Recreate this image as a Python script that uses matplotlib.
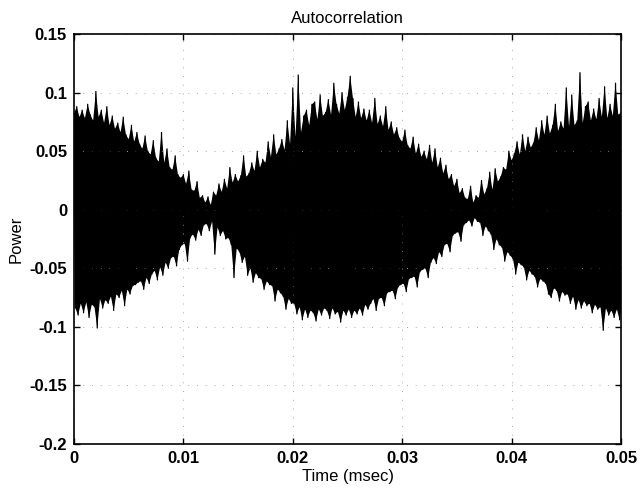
import matplotlib
matplotlib.use('Agg')
from matplotlib import pyplot as plt
import numpy as np

# peak values of the autocorrelation, every 0.00025 msec
# (upper = positive peaks, lower = negative troughs)
upper = [
    0.082, 0.088, 0.079, 0.085,
    0.078, 0.090, 0.081, 0.076,
    0.101, 0.079, 0.085, 0.074,
    0.088, 0.072, 0.080, 0.069,
    0.074, 0.066, 0.079, 0.064,
    0.060, 0.072, 0.058, 0.066,
    0.056, 0.052, 0.063, 0.050,
    0.047, 0.059, 0.044, 0.041,
    0.066, 0.040, 0.052, 0.036,
    0.034, 0.046, 0.030, 0.027,
    0.030, 0.022, 0.033, 0.017,
    0.016, 0.024, 0.010, 0.012,
    0.006, 0.011, 0.004, 0.015,
    0.012, 0.022, 0.015, 0.026,
    0.018, 0.036, 0.023, 0.030,
    0.024, 0.029, 0.046, 0.028,
    0.031, 0.040, 0.033, 0.050,
    0.036, 0.043, 0.040, 0.058,
    0.045, 0.064, 0.047, 0.052,
    0.060, 0.051, 0.076, 0.056,
    0.104, 0.062, 0.115, 0.066,
    0.080, 0.085, 0.072, 0.090,
    0.092, 0.077, 0.098, 0.080,
    0.083, 0.094, 0.081, 0.108,
    0.090, 0.082, 0.100, 0.085,
    0.096, 0.114, 0.095, 0.079,
    0.092, 0.078, 0.086, 0.076,
    0.085, 0.074, 0.095, 0.073,
    0.080, 0.071, 0.088, 0.068,
    0.075, 0.064, 0.070, 0.061,
    0.058, 0.068, 0.055, 0.052,
    0.062, 0.048, 0.056, 0.045,
    0.050, 0.043, 0.055, 0.040,
    0.052, 0.036, 0.044, 0.031,
    0.038, 0.026, 0.030, 0.020,
    0.026, 0.014, 0.018, 0.010,
    0.009, 0.020, 0.006, 0.012,
    0.010, 0.025, 0.013, 0.018,
    0.032, 0.017, 0.035, 0.024,
    0.028, 0.036, 0.034, 0.050,
    0.042, 0.048, 0.058, 0.047,
    0.064, 0.050, 0.062, 0.053,
    0.057, 0.070, 0.059, 0.076,
    0.064, 0.080, 0.065, 0.072,
    0.090, 0.067, 0.075, 0.069,
    0.104, 0.071, 0.098, 0.072,
    0.076, 0.117, 0.074, 0.088,
    0.092, 0.076, 0.086, 0.077,
    0.095, 0.079, 0.105, 0.078,
    0.090, 0.080, 0.108, 0.081,
    0.083]

lower = [
    -0.084, -0.090, -0.080, -0.088,
    -0.079, -0.092, -0.081, -0.083,
    -0.101, -0.076, -0.084, -0.077,
    -0.080, -0.074, -0.086, -0.072,
    -0.075, -0.069, -0.082, -0.068,
    -0.072, -0.065, -0.064, -0.062,
    -0.061, -0.068, -0.058, -0.063,
    -0.055, -0.052, -0.060, -0.049,
    -0.056, -0.045, -0.050, -0.041,
    -0.040, -0.048, -0.034, -0.030,
    -0.029, -0.044, -0.024, -0.021,
    -0.026, -0.017, -0.022, -0.013,
    -0.012, -0.018, -0.010, -0.038,
    -0.015, -0.022, -0.018, -0.025,
    -0.024, -0.030, -0.058, -0.033,
    -0.036, -0.045, -0.040, -0.056,
    -0.050, -0.062, -0.054, -0.058,
    -0.059, -0.068, -0.061, -0.064,
    -0.065, -0.078, -0.068, -0.071,
    -0.074, -0.085, -0.076, -0.080,
    -0.080, -0.089, -0.083, -0.094,
    -0.085, -0.092, -0.086, -0.088,
    -0.095, -0.085, -0.090, -0.084,
    -0.086, -0.093, -0.084, -0.089,
    -0.087, -0.096, -0.086, -0.090,
    -0.085, -0.092, -0.086, -0.089,
    -0.084, -0.090, -0.081, -0.085,
    -0.080, -0.076, -0.086, -0.076,
    -0.075, -0.082, -0.071, -0.070,
    -0.069, -0.076, -0.066, -0.064,
    -0.063, -0.070, -0.059, -0.058,
    -0.057, -0.066, -0.053, -0.051,
    -0.050, -0.058, -0.045, -0.041,
    -0.046, -0.036, -0.040, -0.030,
    -0.029, -0.036, -0.022, -0.020,
    -0.019, -0.027, -0.013, -0.011,
    -0.009, -0.014, -0.007, -0.010,
    -0.011, -0.022, -0.014, -0.018,
    -0.021, -0.034, -0.025, -0.030,
    -0.032, -0.044, -0.036, -0.039,
    -0.042, -0.055, -0.045, -0.047,
    -0.049, -0.060, -0.052, -0.055,
    -0.057, -0.066, -0.059, -0.061,
    -0.063, -0.072, -0.075, -0.067,
    -0.069, -0.078, -0.070, -0.073,
    -0.072, -0.080, -0.074, -0.085,
    -0.077, -0.084, -0.078, -0.082,
    -0.080, -0.088, -0.081, -0.085,
    -0.083, -0.103, -0.084, -0.090,
    -0.086, -0.092, -0.085, -0.094,
    -0.087]

x_ticks = [0, 0.01, 0.02, 0.03, 0.04, 0.05]
x_labels = ['0', '0.01', '0.02', '0.03', '0.04', '0.05']
y_ticks = [-0.2, -0.15, -0.1, -0.05, 0, 0.05, 0.1, 0.15]
y_labels = ['-0.2', '-0.15', '-0.1', '-0.05', '0', '0.05', '0.1', '0.15']

plt.rcParams['font.family'] = ['Liberation Sans', 'DejaVu Sans']

# time of each peak; troughs sit half way between peaks
dt = 0.05 / (len(upper) - 1)
t_up = np.arange(len(upper)) * dt
t_lo = np.minimum(t_up + dt / 2, 0.05)

t = np.empty(len(upper) + len(lower))
y = np.empty(len(upper) + len(lower))
t[0::2] = t_up; y[0::2] = upper
t[1::2] = t_lo; y[1::2] = lower

fig = plt.figure(figsize=(6.41, 4.91), dpi=100)
ax = fig.add_axes([74/641, 1-444/491, (621-74)/641, (444-34)/491])

# the trace is so dense it prints as a solid band: fill between the peak
# and trough polylines, then draw the trace itself on top
ax.fill(np.concatenate([t_up, t_lo[::-1]]),
        np.concatenate([upper, lower[::-1]]),
        color='black', linewidth=0)
ax.plot(t, y, color='black', linewidth=0.9)

ax.set_xlim(0, 0.05)
ax.set_ylim(-0.2, 0.15)
ax.set_xticks(x_ticks)
ax.set_xticklabels(x_labels)
ax.set_yticks(y_ticks)
ax.set_yticklabels(y_labels)
ax.tick_params(direction='in', top=True, right=True, length=4, width=1,
               labelsize=12, pad=5)
for lab in ax.get_xticklabels() + ax.get_yticklabels():
    lab.set_fontweight('bold')
ax.grid(True, color='#aaaaaa', linestyle=(0, (1, 8)), linewidth=0.7)
for sp in ax.spines.values():
    sp.set_linewidth(1.2)

ax.set_title('Autocorrelation', fontsize=12, pad=8)
ax.set_xlabel('Time (msec)', fontsize=12, labelpad=2)
ax.set_ylabel('Power', fontsize=12, labelpad=4)

plt.savefig('out.png', dpi=100)
